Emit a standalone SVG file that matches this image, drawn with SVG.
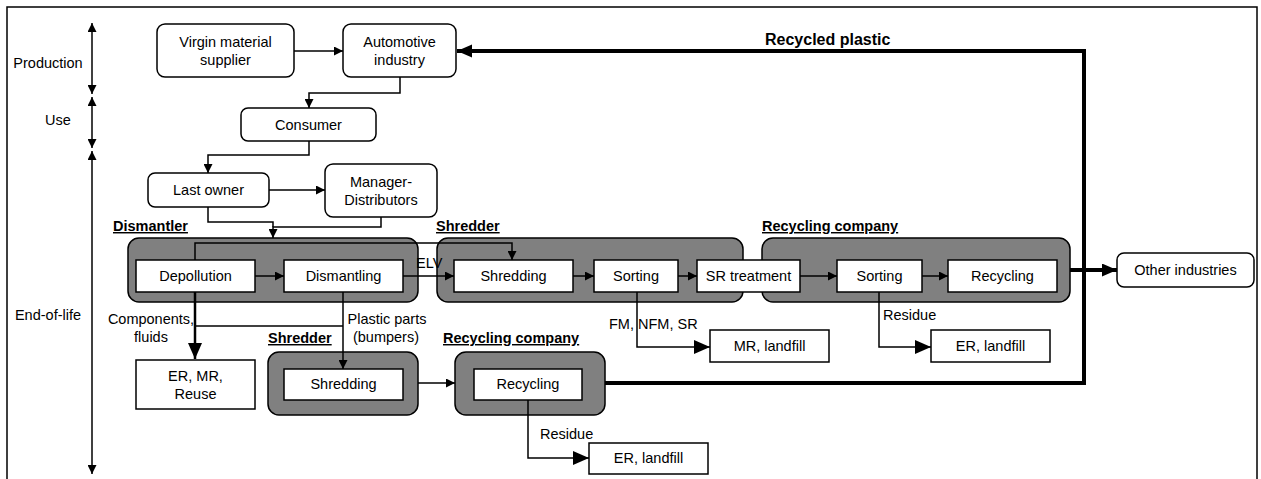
<svg xmlns="http://www.w3.org/2000/svg" width="1261" height="479" viewBox="0 0 1261 479">
<style>
text{font-family:"Liberation Sans",Arial,sans-serif;font-size:14.5px;fill:#000}
.c{text-anchor:middle}
.b{font-weight:bold}
.u{text-decoration:underline}
.n{fill:#fff;stroke:#000;stroke-width:1.5}
.g{fill:#808080;stroke:#000;stroke-width:1.5}
.l{fill:none;stroke:#000;stroke-width:1.5}
.t{fill:none;stroke:#000;stroke-width:4}
.m{fill:none;stroke:#000;stroke-width:2.5}
</style>
<defs>
<marker id="s" markerUnits="userSpaceOnUse" markerWidth="10" markerHeight="9" refX="9" refY="4.5" orient="auto"><path d="M0,0L9,4.5L0,9z"/></marker>
<marker id="s0" markerUnits="userSpaceOnUse" markerWidth="10" markerHeight="9" refX="9" refY="4.5" orient="auto-start-reverse"><path d="M0,0L9,4.5L0,9z"/></marker>
<marker id="B" markerUnits="userSpaceOnUse" markerWidth="17" markerHeight="15" refX="16" refY="7" orient="auto"><path d="M0,0L16,7L0,14z"/></marker>
<marker id="T" markerUnits="userSpaceOnUse" markerWidth="16" markerHeight="14" refX="15" refY="6.5" orient="auto"><path d="M0,0L15,6.5L0,13z"/></marker>
</defs>
<rect x="7" y="7" width="1250" height="490" fill="none" stroke="#000" stroke-width="1.5"/>

<g id="axis">
<line class="l" x1="92" y1="23" x2="92" y2="94" marker-start="url(#s0)" marker-end="url(#s)"/>
<line class="l" x1="92" y1="97" x2="92" y2="148" marker-start="url(#s0)" marker-end="url(#s)"/>
<line class="l" x1="92" y1="151" x2="92" y2="474" marker-start="url(#s0)" marker-end="url(#s)"/>
<text class="c" x="48" y="68">Production</text>
<text class="c" x="58" y="125">Use</text>
<text class="c" x="48" y="320">End-of-life</text>
</g>

<g id="groups">
<rect class="g" x="128" y="238" width="290" height="64" rx="11"/>
<rect class="g" x="437" y="238" width="306" height="64" rx="11"/>
<rect class="g" x="762" y="238" width="308" height="64" rx="11"/>
<rect class="g" x="268" y="352" width="150" height="63" rx="11"/>
<rect class="g" x="455" y="352" width="150" height="63" rx="11"/>
<text class="b u" x="113" y="231">Dismantler</text>
<text class="b u" x="436" y="231">Shredder</text>
<text class="b u" x="762" y="231">Recycling company</text>
<text class="b u" x="268" y="343">Shredder</text>
<text class="b u" x="443" y="343">Recycling company</text>
</g>

<g id="connectors">
<line class="l" x1="294" y1="51" x2="343" y2="51" marker-end="url(#s)"/>
<polyline class="l" points="400,77 400,93 309,93 309,108" marker-end="url(#s)"/>
<polyline class="l" points="309,141 309,155 208,155 208,173" marker-end="url(#s)"/>
<line class="l" x1="269" y1="190" x2="325" y2="190" marker-end="url(#s)"/>
<polyline class="l" points="208,207 208,222 273,222 273,227"/>
<polyline class="l" points="381,217 381,227 273,227 273,238" marker-end="url(#s)"/>
<polyline class="l" points="195,260 195,243 512,243 512,260" marker-end="url(#s)"/>
<line class="l" x1="255" y1="276" x2="284" y2="276" marker-end="url(#s)"/>
<line class="l" x1="403" y1="276" x2="454" y2="276" marker-end="url(#s)"/>
<line class="l" x1="573" y1="276" x2="594" y2="276" marker-end="url(#s)"/>
<line class="l" x1="678" y1="276" x2="697" y2="276" marker-end="url(#s)"/>
<line class="l" x1="800" y1="276" x2="837" y2="276" marker-end="url(#s)"/>
<line class="l" x1="922" y1="276" x2="948" y2="276" marker-end="url(#s)"/>
<line class="t" x1="1070" y1="270" x2="1117" y2="270" marker-end="url(#T)"/>
<polyline class="t" points="605,383 1084,383 1084,51 457,51" marker-end="url(#T)"/>
<line class="m" x1="195" y1="292" x2="195" y2="359" marker-end="url(#B)"/>
<line class="l" x1="195" y1="326" x2="343" y2="326"/>
<line class="l" x1="343" y1="292" x2="343" y2="369" marker-end="url(#s)"/>
<line class="l" x1="418" y1="383" x2="455" y2="383" marker-end="url(#s)"/>
<polyline class="l" points="637,292 637,347 710,347" marker-end="url(#B)"/>
<polyline class="l" points="879,292 879,347 931,347" marker-end="url(#B)"/>
<polyline class="l" points="528,400 528,458 589,458" marker-end="url(#B)"/>
<text class="b" x="765" y="45" style="font-size:16px">Recycled plastic</text>
<text x="416" y="268">ELV</text>
<text class="c" x="151" y="324">Components,</text>
<text class="c" x="151" y="342">fluids</text>
<text class="c" x="387" y="324">Plastic parts</text>
<text class="c" x="386" y="342">(bumpers)</text>
<text x="609" y="329">FM, NFM, SR</text>
<text x="883" y="320">Residue</text>
<text x="540" y="439">Residue</text>
</g>

<g id="n-virgin"><rect class="n" x="157" y="24" width="137" height="53" rx="8"/><text class="c" x="225.5" y="47">Virgin material</text><text class="c" x="225.5" y="65">supplier</text></g>
<g id="n-auto"><rect class="n" x="343" y="24" width="113" height="53" rx="8"/><text class="c" x="399.5" y="47">Automotive</text><text class="c" x="399.5" y="65">industry</text></g>
<g id="n-consumer"><rect class="n" x="241" y="108" width="135" height="33" rx="7"/><text class="c" x="308.5" y="130">Consumer</text></g>
<g id="n-lastowner"><rect class="n" x="148" y="173" width="121" height="34" rx="7"/><text class="c" x="208.5" y="195">Last owner</text></g>
<g id="n-manager"><rect class="n" x="325" y="164" width="112" height="53" rx="8"/><text class="c" x="381" y="187">Manager-</text><text class="c" x="381" y="205">Distributors</text></g>
<g id="n-depollution"><rect class="n" x="136" y="260" width="119" height="32"/><text class="c" x="195.5" y="281">Depollution</text></g>
<g id="n-dismantling"><rect class="n" x="284" y="260" width="119" height="32"/><text class="c" x="343.5" y="281">Dismantling</text></g>
<g id="n-shredding1"><rect class="n" x="454" y="260" width="119" height="32"/><text class="c" x="513.5" y="281">Shredding</text></g>
<g id="n-sorting1"><rect class="n" x="594" y="260" width="84" height="32"/><text class="c" x="636" y="281">Sorting</text></g>
<g id="n-srtreat"><rect class="n" x="697" y="260" width="103" height="32"/><text class="c" x="748.5" y="281">SR treatment</text></g>
<g id="n-sorting2"><rect class="n" x="837" y="260" width="85" height="32"/><text class="c" x="879.5" y="281">Sorting</text></g>
<g id="n-recycling1"><rect class="n" x="948" y="260" width="109" height="32"/><text class="c" x="1002.5" y="281">Recycling</text></g>
<g id="n-other"><rect class="n" x="1117" y="253" width="137" height="34" rx="7"/><text class="c" x="1185.5" y="275">Other industries</text></g>
<g id="n-ermr"><rect class="n" x="136" y="360" width="119" height="49"/><text class="c" x="195.5" y="381">ER, MR,</text><text class="c" x="195.5" y="399">Reuse</text></g>
<g id="n-shredding2"><rect class="n" x="284" y="369" width="119" height="31"/><text class="c" x="343.5" y="389">Shredding</text></g>
<g id="n-recycling2"><rect class="n" x="474" y="369" width="108" height="31"/><text class="c" x="528" y="389">Recycling</text></g>
<g id="n-mrland"><rect class="n" x="710" y="330" width="119" height="32"/><text class="c" x="769.5" y="351">MR, landfill</text></g>
<g id="n-erland1"><rect class="n" x="931" y="330" width="119" height="32"/><text class="c" x="990.5" y="351">ER, landfill</text></g>
<g id="n-erland2"><rect class="n" x="589" y="443" width="119" height="31"/><text class="c" x="648.5" y="463">ER, landfill</text></g>
</svg>
